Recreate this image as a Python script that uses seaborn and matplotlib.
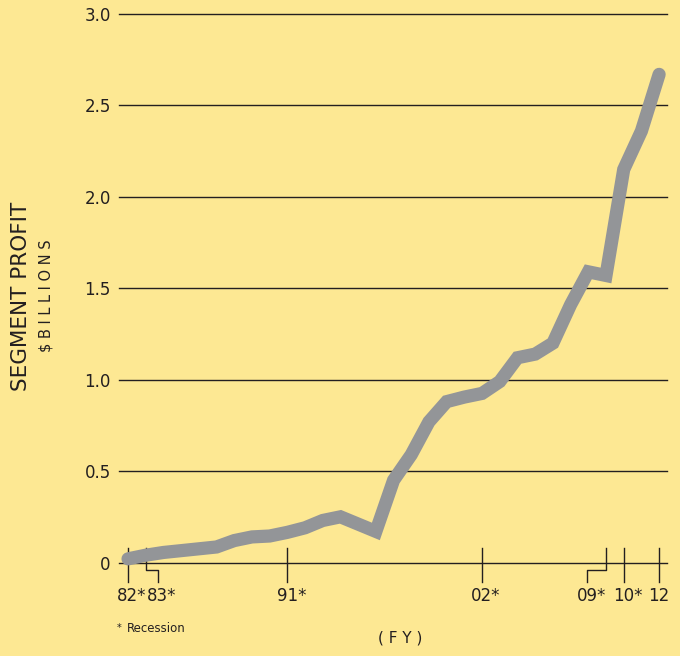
import numpy as np
import pandas as pd
import matplotlib
matplotlib.use("Agg")
import matplotlib.pyplot as plt
import seaborn as sns

# ===================== data =====================
years = list(range(1982, 2013))
profit = [0.02, 0.04, 0.055, 0.065, 0.075, 0.085, 0.12, 0.14, 0.145, 0.165,
          0.19, 0.23, 0.25, 0.21, 0.17, 0.45, 0.59, 0.77, 0.88, 0.905,
          0.925, 0.99, 1.12, 1.14, 1.20, 1.41, 1.59, 1.57, 2.15, 2.36, 2.67]

y_ticks = [0, 0.5, 1.0, 1.5, 2.0, 2.5, 3.0]
y_labels = ["0", "0.5", "1.0", "1.5", "2.0", "2.5", "3.0"]

tick_years = [1982, 1983, 1991, 2002, 2009, 2010, 2012]
tick_labels = ["82*", "83*", "91*", "02*", "09*", "10*", "12"]
# years whose label is pushed aside with a small bracket
bracket_shift = {1983: 0.68, 2009: -1.07}

df = pd.DataFrame({"year": years, "profit": profit})

bg = "#FDE893"
ink = "#231F20"
plt.rcParams["font.family"] = ["DejaVu Sans"]

fig = plt.figure(figsize=(6.8, 6.56), dpi=100, facecolor=bg)
ax = fig.add_axes([0.175, 0.1425, 0.806, 0.8361])
ax.set_facecolor(bg)

# grid lines
for v in y_ticks:
    ax.axhline(v, color=ink, lw=1.0, zorder=1, clip_on=False)

sns.lineplot(data=df, x="year", y="profit", ax=ax, color="#939598",
             lw=9.5, solid_capstyle="round", solid_joinstyle="miter",
             zorder=3, clip_on=False)

ax.set_xlim(1981.49, 2012.45)
ax.set_ylim(0, 3.0)
ax.set_yticks(y_ticks)
ax.set_yticklabels(y_labels, fontsize=12, color=ink)
ax.tick_params(axis="y", length=0, pad=6)
ax.set_xticks([])
ax.set_xlabel("")
ax.set_ylabel("")
for s in ax.spines.values():
    s.set_visible(False)

# x ticks crossing the base line, two of them with brackets
top, mid, bot = 0.079, -0.041, -0.107
for yr, lab in zip(tick_years, tick_labels):
    shift = bracket_shift.get(yr, 0)
    if shift:
        ax.plot([yr, yr, yr + shift, yr + shift], [top, mid, mid, bot],
                color=ink, lw=1.0, clip_on=False, zorder=2)
    else:
        ax.plot([yr, yr], [top, bot], color=ink, lw=1.0, clip_on=False, zorder=2)
    dx = 4 if lab.endswith("*") else 0
    ax.annotate(lab, xy=(yr + shift, 0), xycoords="data",
                xytext=(dx, -33), textcoords="offset pixels",
                ha="center", va="center", fontsize=12, color=ink,
                annotation_clip=False)

# axis titles
fig.text(21 / 680, 1 - 296 / 656, "SEGMENT PROFIT", rotation=90,
         ha="center", va="center", fontsize=15.5, color=ink)
fig.text(46 / 680, 1 - 296 / 656, "$ B I L L I O N S", rotation=90,
         ha="center", va="center", fontsize=10.5, color=ink)
fig.text(400 / 680, 1 - 638 / 656, "( F Y )", ha="center", va="center",
         fontsize=11, color=ink)
fig.text(117 / 680, 1 - 628 / 656, "*", ha="left", va="center",
         fontsize=7, color=ink)
fig.text(127 / 680, 1 - 629 / 656, "Recession", ha="left", va="center",
         fontsize=8.5, color=ink)

fig.savefig("out.png", dpi=100, facecolor=bg)
